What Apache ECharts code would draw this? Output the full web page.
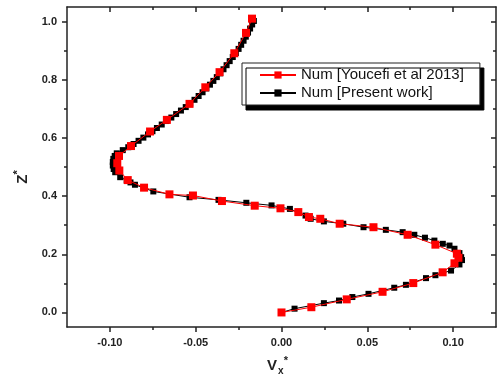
<!DOCTYPE html>
<html><head><meta charset="utf-8">
<script src="https://cdn.jsdelivr.net/npm/echarts@6/dist/echarts.min.js"></script>
<style>html,body{margin:0;padding:0;background:#fff}#c{width:497px;height:376px}</style>
</head><body><div id="c"></div>
<script>
// ---- data ----
const xMajorTicks = [-0.10, -0.05, 0.00, 0.05, 0.10];
const xMinorTicks = [-0.075, -0.025, 0.025, 0.075];
const yMajorTicks = [0.0, 0.2, 0.4, 0.6, 0.8, 1.0];
const yMinorTicks = [0.1, 0.3, 0.5, 0.7, 0.9];
const seriesNames = ['Num [Youcefi et al 2013]', 'Num [Present work]'];

const youcefiVx = [0.0000, 0.0174, 0.0380, 0.0589, 0.0768, 0.0939, 0.1008, 0.1031, 0.1022, 0.0897,
  0.0735, 0.0536, 0.0339, 0.0226, 0.0160, 0.0098, -0.0006, -0.0156, -0.0347, -0.0516,
  -0.0653, -0.0801, -0.0896, -0.0945, -0.0957, -0.0947, -0.0877, -0.0766, -0.0668, -0.0536,
  -0.0444, -0.0361, -0.0275, -0.0207, -0.0172];
const youcefiZ = [0.000, 0.018, 0.045, 0.071, 0.101, 0.138, 0.169, 0.188, 0.202, 0.233,
  0.267, 0.293, 0.305, 0.322, 0.328, 0.345, 0.358, 0.367, 0.383, 0.402,
  0.406, 0.429, 0.455, 0.488, 0.513, 0.538, 0.572, 0.622, 0.662, 0.717,
  0.774, 0.826, 0.891, 0.961, 1.010];

const presentVx = [0.0000, 0.0076, 0.0247, 0.0335, 0.0413, 0.0507, 0.0657, 0.0725, 0.0842, 0.0897,
  0.0988, 0.1037, 0.1052, 0.1047, 0.1037, 0.1008, 0.0979, 0.0940, 0.0891, 0.0836,
  0.0774, 0.0706, 0.0608, 0.0478, 0.0360, 0.0247, 0.0170, 0.0140, 0.0049, -0.0058,
  -0.0205, -0.0367, -0.0536, -0.0747, -0.0854, -0.0880, -0.0902, -0.0940, -0.0969, -0.0978,
  -0.0983, -0.0983, -0.0980, -0.0972, -0.0960,
  -0.0925, -0.0893, -0.0862, -0.0833, -0.0805, -0.0778, -0.0752, -0.0726, -0.0698, -0.0670,
  -0.0642, -0.0614, -0.0586, -0.0558, -0.0532, -0.0507, -0.0483, -0.0460, -0.0438, -0.0417,
  -0.0397, -0.0377, -0.0357, -0.0338, -0.0320, -0.0302, -0.0284, -0.0266, -0.0250, -0.0235,
  -0.0221, -0.0208, -0.0195, -0.0183, -0.0171, -0.0161];
const presentZ = [0.000, 0.013, 0.032, 0.041, 0.053, 0.064, 0.085, 0.095, 0.118, 0.128,
  0.144, 0.165, 0.180, 0.190, 0.204, 0.219, 0.230, 0.236, 0.247, 0.257,
  0.267, 0.276, 0.284, 0.293, 0.305, 0.313, 0.322, 0.333, 0.356, 0.368,
  0.377, 0.387, 0.396, 0.416, 0.439, 0.447, 0.454, 0.465, 0.482, 0.493,
  0.505, 0.517, 0.528, 0.538, 0.547,
  0.558, 0.568, 0.579, 0.590, 0.601, 0.612, 0.623, 0.634, 0.646, 0.658,
  0.670, 0.682, 0.694, 0.706, 0.718, 0.731, 0.744, 0.757, 0.770, 0.783,
  0.796, 0.809, 0.822, 0.836, 0.850, 0.864, 0.878, 0.892, 0.906, 0.920,
  0.934, 0.948, 0.962, 0.976, 0.990, 1.002];

const xRange = [-0.125, 0.125];
const yRange = [-0.05, 1.05];

// ---- chart ----
const FONT = 'Liberation Sans, Arial, sans-serif';
const AXC = '#222';
const pair = (xs, ys) => xs.map((v, i) => [v, ys[i]]);

function mkAxis(kind, position, ticks, len, inside, opts) {
  const r = kind === 'x' ? xRange : yRange;
  return Object.assign({
    type: 'value', position: position, min: r[0], max: r[1],
    splitLine: { show: false },
    axisLine: { show: false, onZero: false, lineStyle: { color: AXC, width: 1.5 } },
    axisTick: { show: true, inside: inside, length: len, customValues: ticks, lineStyle: { color: AXC, width: 1.5 } },
    axisLabel: { show: false }
  }, opts || {});
}

const chart = echarts.init(document.getElementById('c'), null, { renderer: 'canvas' });
chart.setOption({
  animation: false,
  backgroundColor: '#fff',
  grid: { left: 67, right: 1, top: 7, bottom: 49, containLabel: false, outerBoundsMode: 'none' },
  legend: {
    data: seriesNames,
    orient: 'vertical',
    left: 242, top: 63,
    padding: [3, 16, 3, 17],
    itemGap: 0, itemWidth: 36, itemHeight: 9,
    selectedMode: false,
    backgroundColor: '#fff', borderColor: '#222', borderWidth: 1,
    shadowColor: '#000', shadowBlur: 0, shadowOffsetX: 4, shadowOffsetY: 5,
    textStyle: { fontFamily: FONT, fontSize: 15, lineHeight: 18, color: '#111' }
  },
  xAxis: [
    mkAxis('x', 'bottom', xMajorTicks, 5, false, {
      axisLine: { show: true, onZero: false, lineStyle: { color: AXC, width: 1.5 } },
      axisLabel: { show: true, customValues: xMajorTicks, formatter: v => v.toFixed(2), fontFamily: FONT,
        fontWeight: 'bold', fontSize: 11, color: AXC, margin: 10 },
      name: '{v|V}{s|x}{p|*}', nameLocation: 'middle', nameGap: 28,
      nameTextStyle: { padding: [0, 8, 0, 0], rich: {
        v: { fontFamily: FONT, fontWeight: 'bold', fontSize: 15, color: AXC, lineHeight: 18, verticalAlign: 'bottom' },
        s: { fontFamily: FONT, fontWeight: 'bold', fontSize: 10, color: AXC, verticalAlign: 'bottom', lineHeight: 14, padding: [0, 0, -3, 1] },
        p: { fontFamily: FONT, fontWeight: 'bold', fontSize: 11, color: AXC, verticalAlign: 'top', lineHeight: 14, padding: [0, 0, 0, 0] }
      } }
    }),
    mkAxis('x', 'bottom', xMinorTicks, 3, false),
    mkAxis('x', 'top', xMajorTicks, 5, true, { axisLine: { show: true, onZero: false, lineStyle: { color: AXC, width: 1.5 } } }),
    mkAxis('x', 'top', xMinorTicks, 3, true)
  ],
  yAxis: [
    mkAxis('y', 'left', yMajorTicks, 5, false, {
      axisLine: { show: true, onZero: false, lineStyle: { color: AXC, width: 1.5 } },
      axisLabel: { show: true, customValues: yMajorTicks, formatter: v => v.toFixed(1), fontFamily: FONT,
        fontWeight: 'bold', fontSize: 11, color: AXC, margin: 10 },
      name: '{v|Z}{p|*}', nameLocation: 'middle', nameGap: 36, nameRotate: 90,
      nameTextStyle: { padding: [0, 20, 0, 0], rich: {
        v: { fontFamily: FONT, fontWeight: 'bold', fontSize: 15, color: AXC, lineHeight: 18, verticalAlign: 'bottom' },
        p: { fontFamily: FONT, fontWeight: 'bold', fontSize: 11, color: AXC, verticalAlign: 'top', lineHeight: 14 }
      } }
    }),
    mkAxis('y', 'left', yMinorTicks, 3, false),
    mkAxis('y', 'right', yMajorTicks, 5, true, { axisLine: { show: true, onZero: false, lineStyle: { color: AXC, width: 1.5 } } }),
    mkAxis('y', 'right', yMinorTicks, 3, true)
  ],
  series: [
    {
      name: seriesNames[1], type: 'line', xAxisIndex: 0, yAxisIndex: 0,
      data: pair(presentVx, presentZ),
      symbol: 'rect', symbolSize: 6, showAllSymbol: true,
      itemStyle: { color: '#000' },
      lineStyle: { color: '#000', width: 1 },
      z: 2
    },
    {
      name: seriesNames[0], type: 'line', xAxisIndex: 0, yAxisIndex: 0,
      data: pair(youcefiVx, youcefiZ),
      symbol: 'rect', symbolSize: 8, showAllSymbol: true,
      itemStyle: { color: '#ff0000' },
      lineStyle: { color: '#ff0000', width: 1 },
      z: 3
    }
  ]
});
</script></body></html>
